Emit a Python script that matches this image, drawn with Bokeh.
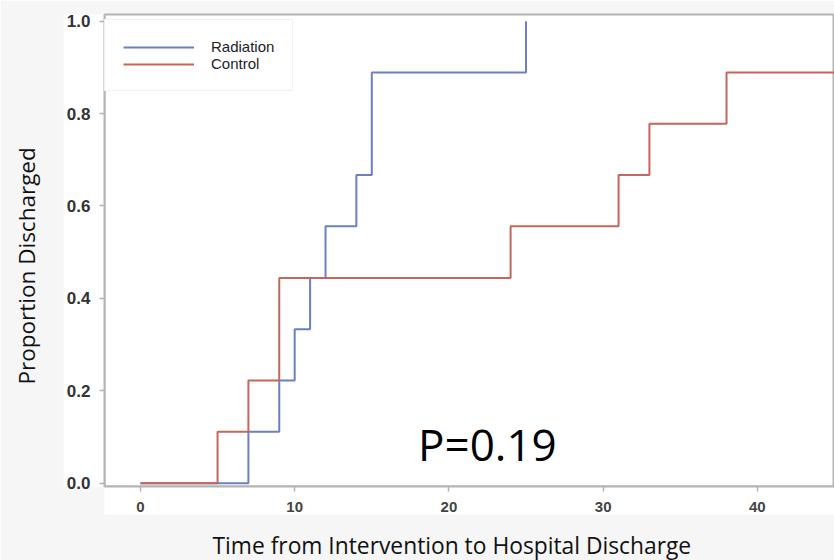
from bokeh.plotting import figure
from bokeh.models import (Range1d, Legend, LegendItem, Label, Title, LinearAxis,
                          FixedTicker, PrintfTickFormatter)
from bokeh.embed import file_html
from bokeh.resources import INLINE

# ---- data ----
radiation_days = [0, 7, 9, 10, 11, 12, 14, 15, 25]
radiation_prop = [0.0, 0.111, 0.222, 0.333, 0.444, 0.556, 0.667, 0.889, 1.0]
control_days = [0, 5, 7, 9, 24, 31, 33, 38, 46]
control_prop = [0.0, 0.111, 0.222, 0.444, 0.556, 0.667, 0.778, 0.889, 0.889]
x_ticks = [0, 10, 20, 30, 40]
y_ticks = [0.0, 0.2, 0.4, 0.6, 0.8, 1.0]
series_names = ["Radiation", "Control"]
x_title = "Time from Intervention to Hospital Discharge"
y_title = "Proportion Discharged"
p_value_text = "P=0.19"
p_value_pos = (18.0, 0.0837)

BLUE = "#6b7fc2"
RED = "#c4675a"
AXIS_GRAY = "#b4b4b4"
OUTER_BG = "#f6f6f6"

p = figure(width=834, height=560, output_backend="svg", toolbar_location=None,
           x_range=Range1d(-2.33, 45), y_range=Range1d(-0.0073, 1.0145),
           min_border_left=104, min_border_right=0, min_border_top=14,
           min_border_bottom=73)
p.background_fill_color = "white"
p.border_fill_color = OUTER_BG
p.grid.visible = False
p.outline_line_color = AXIS_GRAY
p.outline_line_width = 2

for ax in p.axis:
    ax.axis_line_color = AXIS_GRAY
    ax.axis_line_width = 2
    ax.major_tick_line_color = AXIS_GRAY
    ax.major_tick_line_width = 1.5
    ax.major_tick_out = 5
    ax.major_tick_in = 0
    ax.minor_tick_line_color = None
    ax.major_label_text_font = "Liberation Sans"
    ax.major_label_text_font_style = "bold"
    if "background_fill_color" in ax.properties():
        ax.background_fill_color = "white"

p.xaxis.ticker = x_ticks
p.yaxis.ticker = y_ticks
p.yaxis.formatter = PrintfTickFormatter(format="%.1f")
p.xaxis.major_label_text_font_size = "15px"
p.xaxis.major_label_text_color = "#444444"
p.xaxis.major_label_standoff = 10
p.yaxis.major_label_text_font_size = "17px"
p.yaxis.major_label_text_color = "#333333"
p.yaxis.major_label_standoff = 9


def spacer_axis(gap, at):
    """Blank axis (one background-coloured tick, empty label) used as margin space."""
    return LinearAxis(ticker=FixedTicker(ticks=[at]), axis_line_color=None,
                      major_tick_line_color=OUTER_BG, minor_tick_line_color=None,
                      major_tick_out=gap, major_tick_in=0, minor_tick_out=0,
                      minor_tick_in=0, major_label_standoff=0,
                      major_label_overrides={at: ""},
                      major_label_text_font_size="1px")


r_rad = p.step(radiation_days, radiation_prop, mode="after", line_color=BLUE, line_width=2)
r_ctl = p.step(control_days, control_prop, mode="after", line_color=RED, line_width=2)

legend = Legend(items=[LegendItem(label=series_names[0], renderers=[r_rad]),
                       LegendItem(label=series_names[1], renderers=[r_ctl])],
                location=(0, 395), padding=18, margin=0, spacing=0,
                label_height=16, glyph_height=16, glyph_width=71, label_standoff=17,
                border_line_color="#e4e4e4", background_fill_color="white",
                label_text_font="Liberation Sans", label_text_font_size="15px",
                label_text_color="#222222")
p.add_layout(legend)

p.add_layout(Label(x=p_value_pos[0], y=p_value_pos[1], text=p_value_text,
                   text_font="Open Sans", text_font_size="44px",
                   text_baseline="middle", text_color="black"))

p.add_layout(spacer_axis(22, 0.5), "left")
p.add_layout(Title(text=y_title, align="left", offset=102, standoff=0,
                   vertical_align="bottom",
                   text_font="Open Sans", text_font_size="22.5px",
                   text_font_style="normal", text_color="#111111"), "left")
p.add_layout(spacer_axis(13, 20), "below")
p.add_layout(Title(text=x_title, align="left", offset=108, standoff=0,
                   vertical_align="bottom",
                   text_font="Open Sans", text_font_size="22.8px",
                   text_font_style="normal", text_color="#111111"), "below")

open("out.html", "w").write(file_html(p, INLINE))
